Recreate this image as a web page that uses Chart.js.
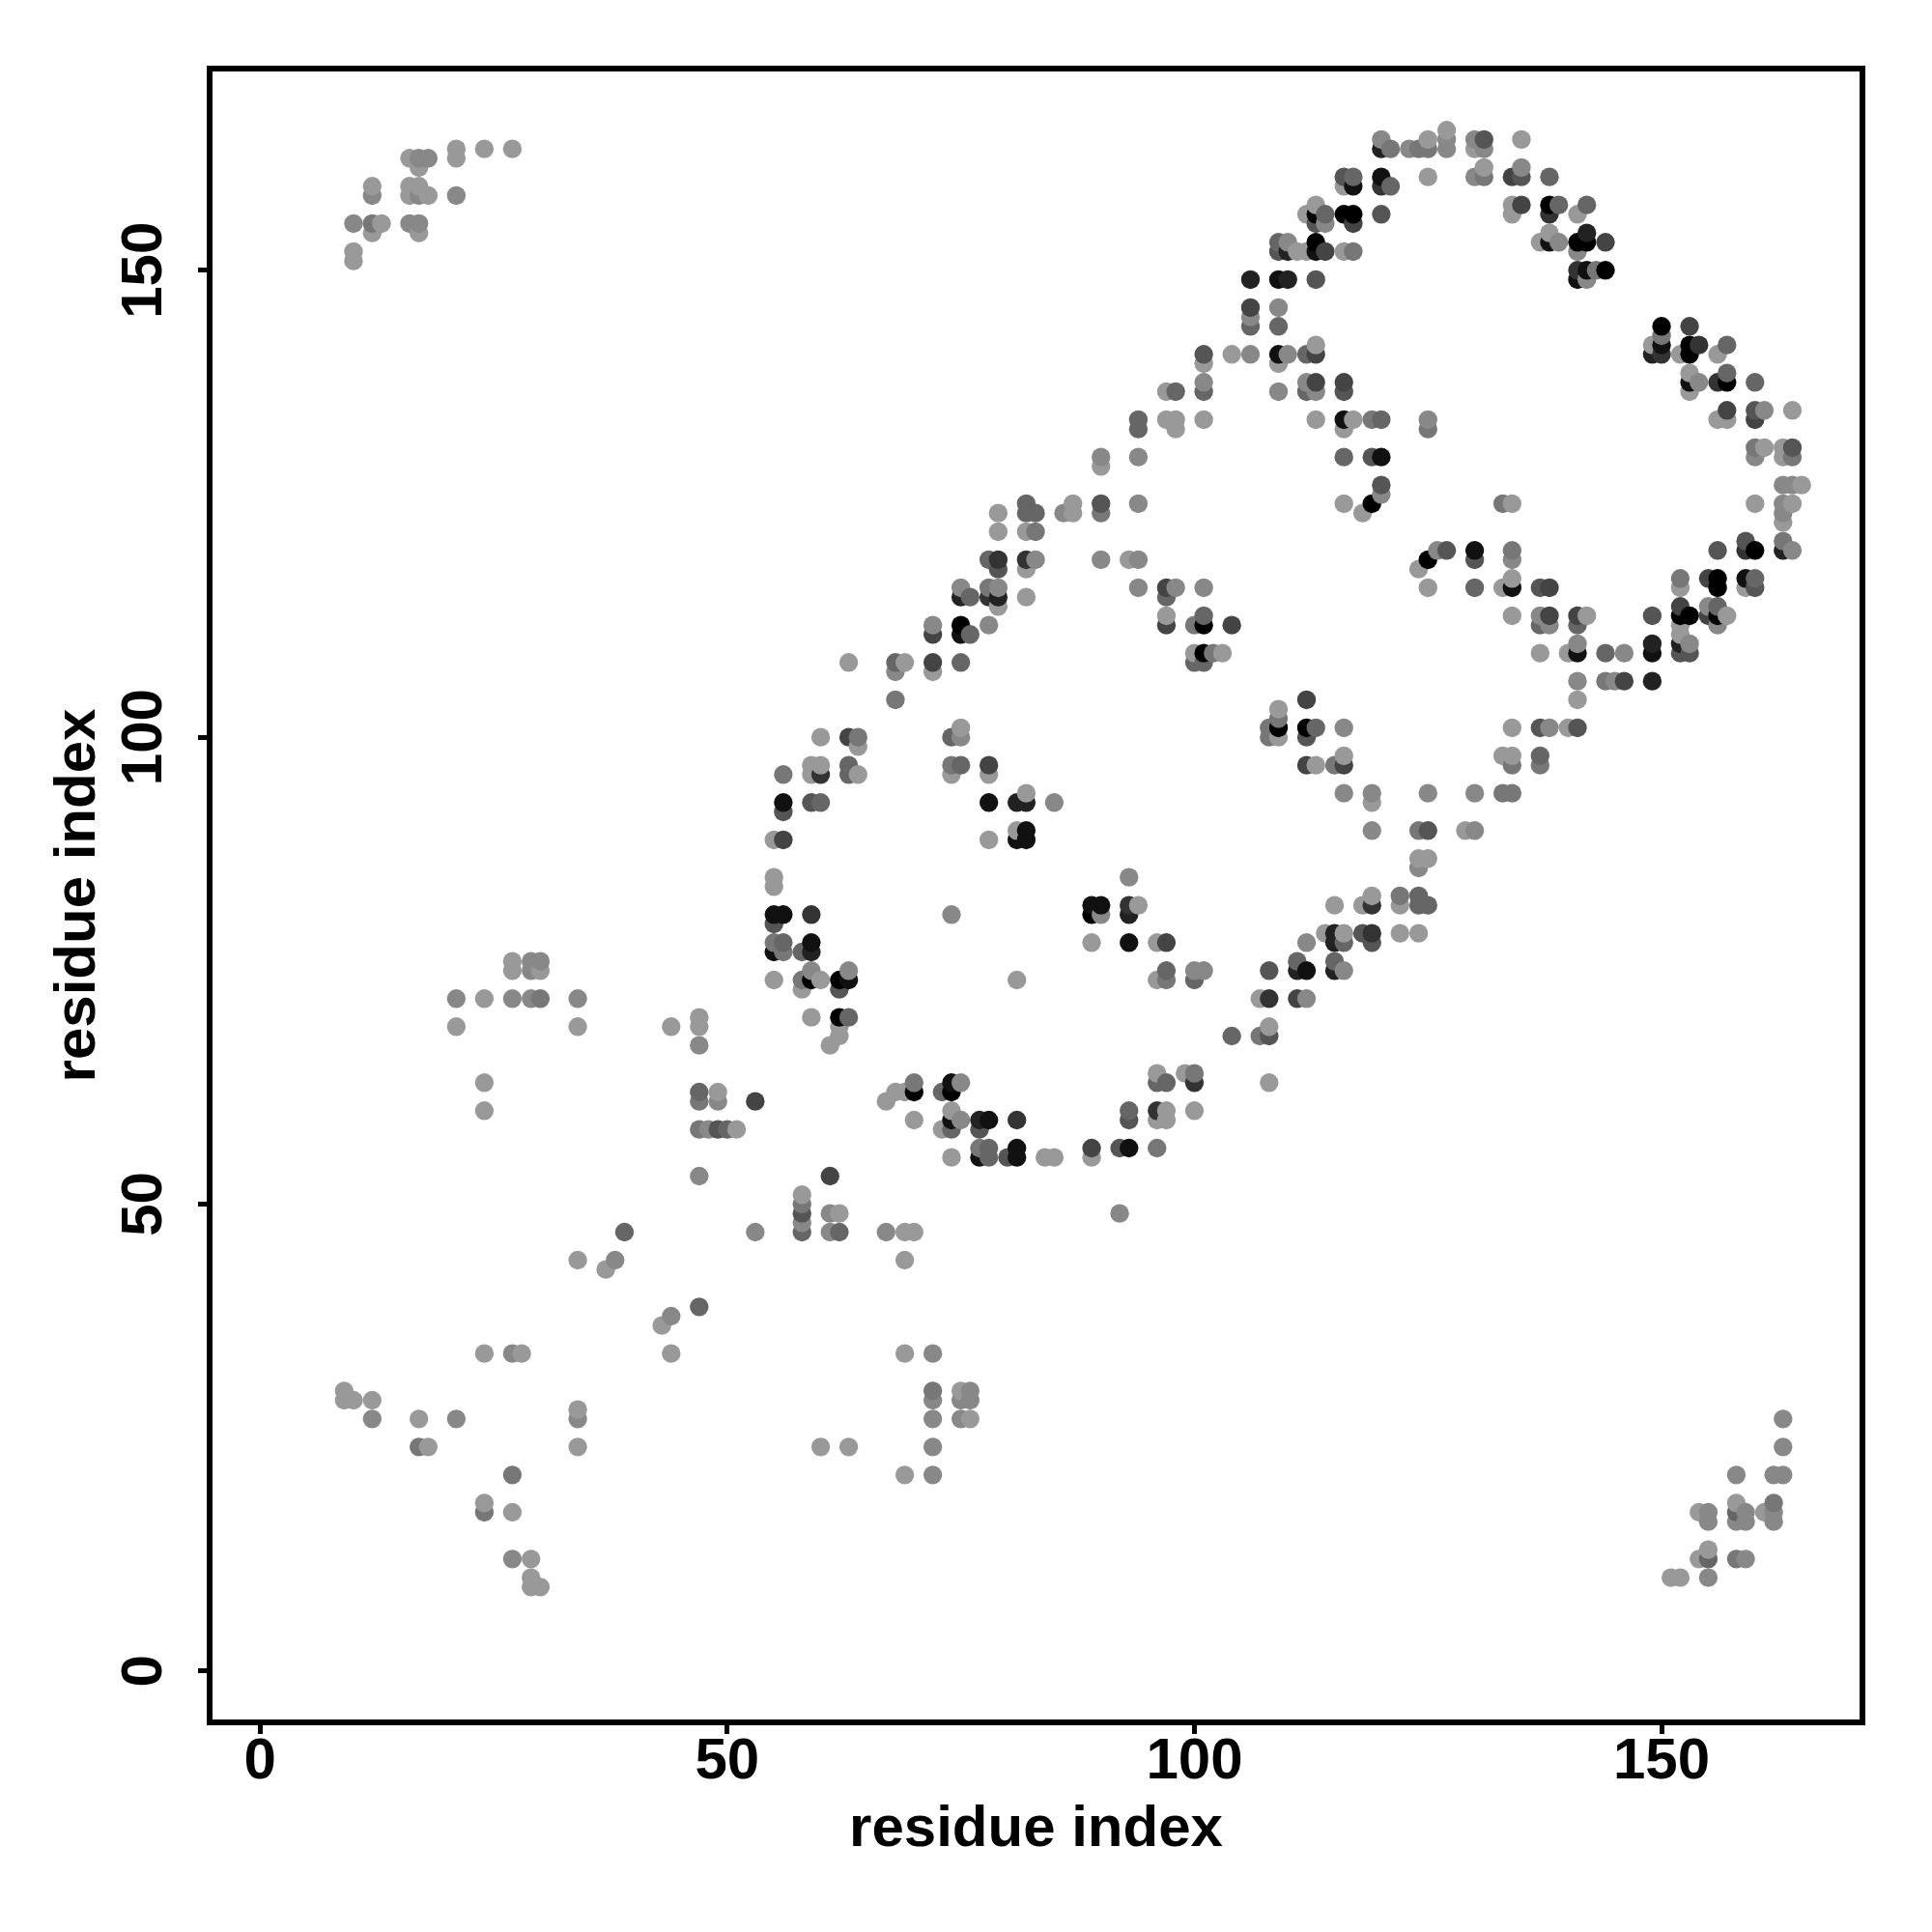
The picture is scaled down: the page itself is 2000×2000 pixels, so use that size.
<!DOCTYPE html>
<html>
<head>
<meta charset="utf-8">
<title>residue contacts</title>
<script src="https://cdn.jsdelivr.net/npm/chart.js@4"></script>
<style>
  body { margin: 0; background: #fff; }
</style>
</head>
<body>
<canvas id="contacts" width="2000" height="2000"></canvas>
<script>
// Contact map, one line per y residue. rowX and rowLevel line up with rowY.
// Level is how dark a contact is, 1 = lightest grey, 10 = black.

const tickValues = [0, 50, 100, 150];
const axisLabel = 'residue index';

const rowY = [
  165, 164, 163, 162, 161, 160, 159, 158, 157, 156, 155, 154, 153, 152, 151, 150, 149, 146, 145, 144, 143, 142,
  141, 140, 139, 138, 137, 135, 134, 133, 131, 130, 129, 127, 126, 125, 124, 123, 122, 121, 120, 119, 118, 117,
  116, 115, 114, 113, 112, 111, 110, 109, 108, 107, 106, 104, 103, 102, 101, 100, 99, 98, 97, 96, 94, 93, 92,
  90, 89, 87, 86, 85, 84, 83, 82, 81, 80, 79, 78, 77, 76, 75, 74, 73, 72, 70, 69, 68, 67, 64, 63, 62, 61, 60,
  59, 58, 56, 55, 53, 51, 50, 49, 48, 47, 44, 43, 39, 38, 37, 34, 30, 29, 28, 27, 24, 21, 18, 17, 16, 13, 12, 10, 9
];

const rowX = [
  [127],
  [120, 125, 127, 130, 131, 135],
  [21, 24, 27, 120, 121, 123, 124, 125, 127, 130, 131],
  [16, 17, 18, 21],
  [17, 131, 135],
  [116, 117, 120, 125, 130, 131, 134, 135, 138],
  [12, 16, 17, 116, 117, 120, 121],
  [12, 16, 17, 18, 21],
  [113, 134, 135, 138, 139, 142],
  [112, 113, 114, 116, 117, 120, 134, 138, 141],
  [10, 12, 13, 16, 17, 113, 114, 117],
  [12, 17, 138, 142],
  [109, 110, 113, 137, 138, 139, 141, 142, 144],
  [10, 109, 110, 111, 112, 113, 114, 116, 117, 141],
  [10],
  [141, 142, 143, 144],
  [106, 109, 110, 113, 141, 142],
  [106, 109],
  [106],
  [106, 109, 150, 153],
  [150],
  [113, 149, 150, 153, 154, 157],
  [101, 104, 106, 109, 110, 112, 113, 149, 150, 152, 153, 156],
  [101, 109],
  [153, 157],
  [101, 112, 113, 116, 153, 154, 156, 157, 160],
  [97, 98, 101, 109, 112, 113, 116, 153],
  [157, 160, 161, 164],
  [94, 97, 98, 101, 113, 116, 117, 119, 120, 125, 156, 157, 160],
  [94, 98, 116, 125],
  [160, 161, 163, 164],
  [90, 94, 116, 119, 120, 160, 163, 164],
  [90],
  [120, 163, 164, 165],
  [120],
  [82, 87, 90, 94, 116, 119, 133, 134, 160, 163, 164],
  [79, 82, 83, 86, 87, 90, 118, 163],
  [163],
  [79, 82, 83],
  [159, 163],
  [126, 127, 130, 134, 156, 159, 160, 163, 164],
  [78, 79, 82, 83, 90, 93, 94, 125, 130, 134],
  [79, 82, 124],
  [134, 152, 155, 156, 159, 160],
  [75, 78, 79, 94, 97, 98, 101, 125, 130, 133, 134, 137, 138, 152, 156, 159, 160],
  [75, 76, 78, 79, 82, 97],
  [79, 152, 155, 156],
  [97, 101, 134, 137, 138, 141, 142, 149, 152, 153, 155, 156, 157],
  [72, 75, 78, 97, 100, 101, 104, 137, 138, 141, 152, 156],
  [72, 75, 76, 152],
  [141, 149, 152, 153],
  [100, 101, 102, 103, 137, 140, 141, 144, 146, 149, 152, 153],
  [63, 68, 69, 72, 75, 100, 101],
  [68, 72],
  [141, 144, 145, 146, 149],
  [68, 112, 141],
  [109],
  [109],
  [75, 108, 109, 112, 113, 116, 134, 137, 138, 140, 141],
  [60, 63, 64, 74, 75, 108, 109, 112],
  [64],
  [116, 133, 134, 137],
  [59, 60, 63, 74, 75, 78, 112, 113, 115, 116, 134, 137],
  [56, 59, 60, 63, 64, 74, 78],
  [82, 116, 119, 125, 130, 133, 134],
  [56, 59, 60, 78, 81, 82, 85, 119],
  [56],
  [81, 82, 119, 124, 125, 129, 130],
  [55, 56, 78, 81, 82],
  [124, 125],
  [124],
  [55, 93],
  [55],
  [119, 122, 124],
  [89, 90, 93, 94, 115, 118, 119, 122, 124, 125],
  [55, 56, 59, 74, 89, 90, 93],
  [55],
  [114, 115, 116, 118, 119, 122, 124],
  [55, 56, 59, 89, 93, 96, 97, 112, 115, 116, 119],
  [55, 56, 58, 59],
  [27, 29, 30, 111, 115],
  [27, 29, 30, 59, 63, 97, 100, 101, 108, 111, 112, 115, 116],
  [55, 58, 59, 60, 62, 63, 81, 96, 97, 100],
  [58, 62],
  [21, 24, 27, 29, 30, 34, 107, 108, 111, 112],
  [47, 59, 62, 63],
  [21, 34, 44, 47, 62, 108],
  [62, 104, 107, 108],
  [47, 61],
  [96, 99, 100],
  [24, 70, 74, 75, 96, 97, 100, 108],
  [47, 49, 68, 69, 70, 73, 74],
  [47, 49, 53, 67],
  [24, 74, 93, 96, 97, 100],
  [70, 74, 75, 77, 78, 81, 93, 96, 97],
  [47, 48, 49, 50, 51, 73, 74, 77],
  [77, 78, 81, 89, 92, 93, 96],
  [74, 77, 78, 80, 81, 84, 85, 89],
  [47, 61],
  [58],
  [58],
  [58, 61, 62, 92],
  [58],
  [39, 53, 58, 61, 62, 67, 69, 70],
  [34, 38, 69],
  [37],
  [47],
  [44],
  [43],
  [24, 27, 28, 44, 69, 72],
  [9, 72, 75, 76],
  [9, 10, 12, 72, 75, 76],
  [34],
  [12, 17, 21, 34, 72, 75, 76, 163],
  [17, 18, 34, 60, 63, 72, 163],
  [27, 69, 72, 158, 162, 163],
  [24, 158, 162],
  [24, 27, 154, 155, 158, 159, 161, 162],
  [155, 158, 159, 162],
  [155],
  [27, 29, 154, 155, 158, 159],
  [29, 151, 152, 155],
  [29, 30]
];

const rowLevel = [
  [1],
  [2, 1, 2, 2, 5, 1],
  [1, 1, 1, 8, 3, 2, 3, 3, 2, 1, 2],
  [1, 2, 2, 1],
  [1, 1, 2],
  [5, 4, 9, 1, 2, 3, 6, 5, 4],
  [1, 1, 1, 1, 9, 7, 4],
  [2, 1, 2, 1, 2],
  [1, 1, 6, 10, 4, 4],
  [1, 10, 4, 10, 10, 5, 1, 7, 1],
  [2, 3, 1, 2, 2, 5, 2, 6],
  [1, 1, 1, 8],
  [4, 2, 10, 1, 9, 2, 10, 10, 6],
  [1, 5, 8, 1, 1, 9, 6, 1, 3, 2],
  [1],
  [7, 9, 3, 10],
  [8, 9, 8, 5, 9, 2],
  [6, 2],
  [2],
  [4, 4, 10, 6],
  [3],
  [1, 1, 9, 10, 7, 4],
  [5, 1, 2, 9, 2, 4, 6, 8, 7, 1, 10, 1],
  [1, 1],
  [1, 4],
  [2, 2, 6, 6, 9, 2, 7, 10, 4],
  [1, 4, 4, 2, 4, 2, 5, 1],
  [6, 5, 2, 1],
  [4, 1, 1, 1, 1, 9, 1, 3, 4, 2, 1, 1, 6],
  [4, 1, 1, 3],
  [3, 1, 1, 5],
  [2, 2, 4, 5, 9, 2, 1, 3],
  [1],
  [5, 2, 2, 1],
  [2],
  [4, 1, 5, 2, 1, 10, 3, 1, 1, 2, 1],
  [1, 4, 4, 2, 1, 3, 1, 2],
  [1],
  [1, 1, 3],
  [5, 3],
  [2, 5, 9, 3, 5, 7, 10, 8, 2],
  [4, 7, 7, 2, 2, 1, 2, 10, 5, 2],
  [5, 1, 1],
  [1, 3, 6, 10, 9, 4],
  [2, 3, 2, 2, 6, 2, 2, 1, 4, 1, 9, 5, 6, 1, 10, 1, 5],
  [8, 4, 7, 8, 1, 4],
  [1, 6, 2, 4],
  [1, 4, 1, 2, 6, 6, 1, 5, 10, 10, 6, 10, 1],
  [2, 10, 2, 6, 3, 10, 6, 4, 2, 4, 1, 2],
  [6, 9, 4, 1],
  [2, 8, 8, 2],
  [1, 10, 3, 1, 1, 1, 9, 4, 2, 9, 5, 5],
  [1, 4, 1, 6, 4, 4, 4],
  [2, 1],
  [2, 3, 2, 6, 8],
  [3, 6, 1],
  [1],
  [3],
  [1, 3, 10, 10, 4, 2, 1, 5, 2, 1, 5],
  [1, 6, 3, 4, 2, 3, 1, 5],
  [1],
  [1, 1, 1, 4],
  [1, 1, 4, 3, 4, 6, 6, 1, 3, 6, 3, 3],
  [3, 1, 7, 4, 1, 1, 1],
  [1, 2, 2, 2, 2, 3, 3],
  [9, 5, 4, 9, 8, 8, 2, 1],
  [5],
  [1, 9, 2, 3, 5, 1, 2],
  [1, 6, 1, 9, 9],
  [1, 1],
  [2],
  [1, 2],
  [1],
  [1, 3, 4],
  [9, 9, 7, 1, 1, 1, 7, 1, 4, 4],
  [9, 9, 7, 2, 10, 2, 8],
  [5],
  [1, 8, 1, 5, 7, 1, 1],
  [3, 4, 9, 1, 9, 1, 6, 2, 8, 4, 5],
  [9, 3, 4, 8],
  [1, 2, 2, 4, 4],
  [1, 2, 1, 2, 2, 4, 2, 2, 5, 8, 9, 8, 2],
  [1, 3, 10, 1, 10, 9, 1, 1, 3, 4],
  [1, 5],
  [2, 1, 2, 2, 3, 2, 1, 7, 6, 2],
  [1, 1, 10, 4],
  [1, 1, 1, 1, 1, 1],
  [1, 4, 3, 5],
  [2, 1],
  [1, 1, 3],
  [1, 3, 9, 2, 4, 4, 7, 1],
  [4, 1, 1, 1, 10, 4, 10],
  [3, 2, 6, 1],
  [1, 1, 4, 7, 1, 1],
  [1, 9, 2, 8, 9, 7, 5, 1, 1],
  [3, 2, 5, 4, 1, 1, 4, 5],
  [3, 4, 9, 6, 5, 9, 3],
  [1, 9, 4, 5, 9, 1, 1, 1],
  [2, 6],
  [1],
  [3],
  [5, 2, 1, 2],
  [2],
  [4, 2, 4, 2, 4, 2, 1, 1],
  [1, 2, 1],
  [1],
  [4],
  [2],
  [1],
  [1, 2, 1, 1, 1, 2],
  [1, 3, 1, 2],
  [1, 1, 1, 2, 2, 2],
  [1],
  [2, 1, 2, 2, 2, 2, 1, 2],
  [3, 1, 1, 1, 1, 2, 2],
  [3, 1, 2, 2, 2, 2],
  [1, 1, 3],
  [3, 1, 1, 2, 4, 2, 1, 2],
  [2, 2, 2, 2],
  [1],
  [2, 1, 1, 4, 3, 2],
  [1, 1, 1, 2],
  [1, 1]
];

// flatten the rows, later x and higher y get drawn on top
var points = [];
for (var i = 0; i < rowY.length; i++) {
  for (var j = 0; j < rowX[i].length; j++) {
    points.push({ x: rowX[i][j], y: rowY[i], level: rowLevel[i][j] });
  }
}
points.sort(function (a, b) {
  return a.x - b.x || a.y - b.y;
});

function levelColor(level) {
  var g = 153 - (level - 1) * 17;
  return 'rgb(' + g + ',' + g + ',' + g + ')';
}

const labelFont = { family: '"Liberation Sans"', size: 60, weight: 'bold', lineHeight: 1.2 };

// R style closed box round the plot
const boxPlugin = {
  id: 'box',
  afterDraw: function (chart) {
    var a = chart.chartArea;
    var c = chart.ctx;
    c.save();
    c.strokeStyle = '#000';
    c.lineWidth = 6;
    c.strokeRect(a.left, a.top, a.right - a.left, a.bottom - a.top);
    c.restore();
  }
};

function useTickValues(axis) {
  axis.ticks = tickValues.map(function (v) {
    return { value: v };
  });
}

const ctx = document.getElementById('contacts');
const contactChart = new Chart(ctx, {
  type: 'scatter',
  data: {
    datasets: [{
      data: points,
      pointRadius: 9.7,
      pointBorderWidth: 0,
      pointBackgroundColor: points.map(function (p) {
        return levelColor(p.level);
      })
    }]
  },
  plugins: [boxPlugin],
  options: {
    responsive: false,
    animation: false,
    events: [],
    layout: {
      padding: { left: 0, right: 72, top: 71, bottom: 0 }
    },
    plugins: {
      legend: { display: false },
      tooltip: { enabled: false }
    },
    scales: {
      x: {
        type: 'linear',
        min: -5.4,
        max: 171.5,
        afterBuildTicks: useTickValues,
        afterFit: function (axis) {
          axis.height = 217;
        },
        border: { display: false },
        grid: {
          drawOnChartArea: false,
          drawTicks: true,
          tickLength: 12,
          tickWidth: 5,
          tickColor: '#000'
        },
        ticks: {
          color: '#000',
          font: labelFont,
          padding: -7,
          maxRotation: 0,
          autoSkip: false
        },
        title: {
          display: true,
          text: axisLabel,
          color: '#000',
          font: labelFont,
          padding: { top: 0, bottom: 70 }
        }
      },
      y: {
        type: 'linear',
        min: -5.5,
        max: 171.6,
        afterBuildTicks: useTickValues,
        afterFit: function (axis) {
          axis.width = 217;
        },
        border: { display: false },
        grid: {
          drawOnChartArea: false,
          drawTicks: true,
          tickLength: 12,
          tickWidth: 5,
          tickColor: '#000'
        },
        ticks: {
          color: '#000',
          font: labelFont,
          padding: 4,
          minRotation: 90,
          maxRotation: 90,
          crossAlign: 'center',
          autoSkip: false
        },
        title: {
          display: true,
          text: axisLabel,
          color: '#000',
          font: labelFont,
          padding: { top: 45, bottom: 0 }
        }
      }
    }
  }
});
</script>
</body>
</html>
